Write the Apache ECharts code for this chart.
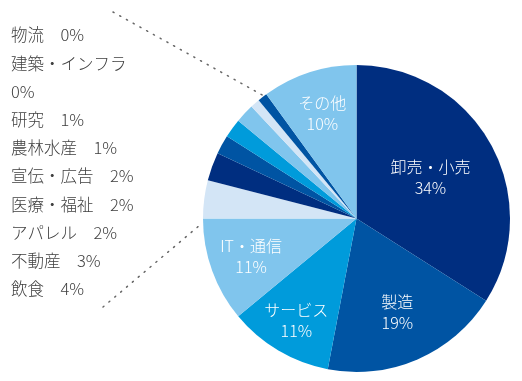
<!DOCTYPE html>
<html>
<head>
<meta charset="utf-8">
<script src="https://cdn.jsdelivr.net/npm/echarts@6/dist/echarts.min.js"></script>
<style>
html,body{margin:0;padding:0;background:#fff;}
#chart{width:522px;height:381px;}
</style>
</head>
<body>
<div id="chart"></div>
<script>
// ---- data ----
const categories = ['卸売・小売','製造','サービス','IT・通信','飲食','不動産','アパレル','医療・福祉','宣伝・広告','農林水産','研究','建築・インフラ','物流','その他'];
const values = [34,19,11,11,4,3,2,2,2,1,1,0,0,10];
const sideListNames = ['物流','建築・インフラ','研究','農林水産','宣伝・広告','医療・福祉','アパレル','不動産','飲食'];
const insideLabelNames = ['卸売・小売','製造','サービス','IT・通信','その他'];

// ---- style ----
const NAVY = '#002e80', MED = '#0054a3', BRIGHT = '#009bdb', LIGHT = '#80c5ed', PALE = '#d3e5f6';
const sliceColors = [NAVY, MED, BRIGHT, LIGHT, PALE, NAVY, MED, BRIGHT, LIGHT, PALE, MED, NAVY, MED, LIGHT];
const labelRadiusFactor = {'卸売・小売':0.55,'製造':0.67,'サービス':0.77,'IT・通信':0.73,'その他':0.72};
const wrapNames = ['建築・インフラ'];
const CX = 356.5, CY = 218.5, R = 153.5;

const valueOf = n => values[categories.indexOf(n)];
const sideLines = sideListNames.map(n => n + (wrapNames.includes(n) ? '\n' : '\u3000') + valueOf(n) + '%');

const total = values.reduce((a,b)=>a+b,0);
const midAngles = [];
let cum = 0;
values.forEach(v => { midAngles.push((cum + v/2) / total * 2 * Math.PI); cum += v; });

const chart = echarts.init(document.getElementById('chart'), null, {renderer:'canvas'});
const FONT = '"Noto Sans CJK JP", "Noto Sans", sans-serif';
chart.setOption({
  animation: false,
  backgroundColor: '#fff',
  title: {
    text: sideLines.join('\n'),
    left: 11, top: 21, padding: 0,
    textStyle: {fontFamily: FONT, fontSize: 16.5, fontWeight: 300, color: '#404040', lineHeight: 28.2}
  },
  graphic: [
    {type:'line', silent:true, shape:{x1:113, y1:12, x2:264, y2:96},
      style:{stroke:'#666', lineWidth:1.5, lineDash:[1.2,6.5], lineCap:'round'}},
    {type:'line', silent:true, shape:{x1:103, y1:307, x2:200, y2:225},
      style:{stroke:'#666', lineWidth:1.5, lineDash:[1.2,6.5], lineCap:'round'}}
  ],
  series: [{
    type: 'pie',
    center: [CX, CY],
    radius: [0, R],
    startAngle: 90,
    clockwise: true,
    silent: true,
    emphasis: {disabled: true},
    data: categories.map((n, i) => ({
      name: n, value: values[i],
      itemStyle: {color: sliceColors[i]},
      label: {show: insideLabelNames.includes(n)}
    })),
    label: {
      position: 'inside',
      formatter: p => p.name + '\n' + p.value + '%',
      color: '#fff', fontFamily: FONT, fontSize: 16, lineHeight: 21, fontWeight: 300
    },
    labelLine: {show: false},
    labelLayout: function (params) {
      const i = params.dataIndex;
      const k = labelRadiusFactor[categories[i]];
      if (!k) return {};
      const a = midAngles[i];
      return {x: CX + k * R * Math.sin(a), y: CY - k * R * Math.cos(a), align: 'center', verticalAlign: 'middle'};
    }
  }]
});
</script>
</body>
</html>
